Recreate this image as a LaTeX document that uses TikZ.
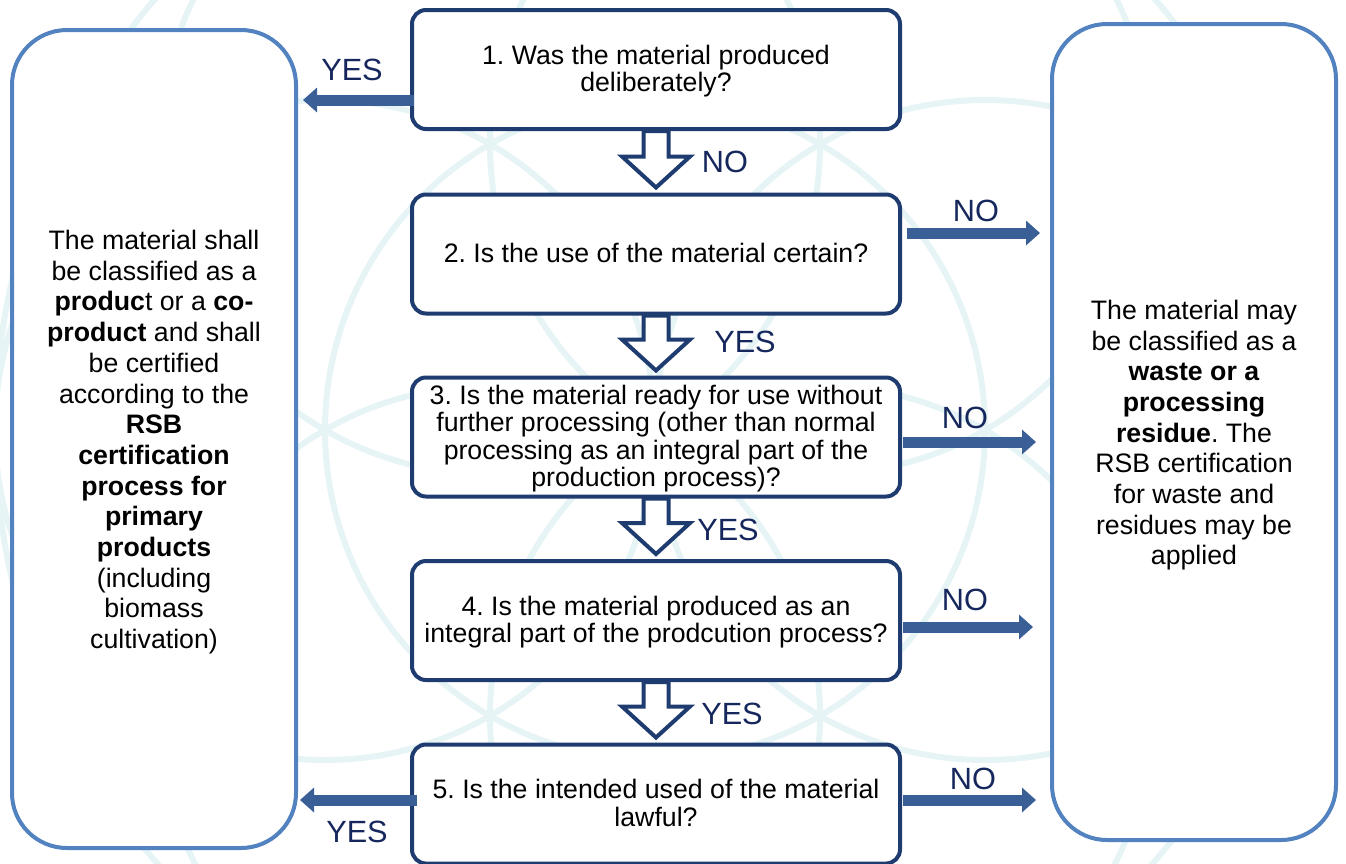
\documentclass[tikz,border=0pt]{standalone}
\usepackage{fontspec}
\setmainfont{Liberation Sans}
\usetikzlibrary{arrows.meta,calc}
\definecolor{boxblue}{HTML}{1F3C70}
\definecolor{sideblue}{HTML}{5282C0}
\definecolor{arrowblue}{HTML}{3A5F96}
\definecolor{labelblue}{HTML}{15275C}
\definecolor{bgc}{HTML}{E6F4F6}
\frenchspacing
\newcommand\lowered[2]{\raisebox{-#1}[\height][\depth]{\begin{tabular}{@{}c@{}}#2\end{tabular}}}
\begin{document}
\begin{tikzpicture}[x=1pt,y=-1pt,
  qbox/.style={draw=boxblue, line width=4pt, rounded corners=14pt, fill=white,
    minimum width=488pt, minimum height=119pt, align=center, inner sep=0pt,
    font=\fontsize{26.7}{27}\selectfont},
  sidebox/.style={draw=sideblue, line width=4pt, rounded corners=55pt, fill=white,
    minimum width=284pt, align=center, inner sep=0pt,
    font=\fontsize{26.7}{30.7}\selectfont},
  ans/.style={text=labelblue, inner sep=0pt, font=\fontsize{30.7}{31}\selectfont},
  blockarrow/.style={draw=arrowblue, line width=11pt,
    -{Triangle[width=24pt,length=14pt]}},
  hollow/.style={draw=boxblue, line width=4pt, fill=white, line join=miter},
  bgline/.style={draw=bgc, line width=6pt}]
\useasboundingbox (0,0) rectangle (1346,863);
% faint background pattern
\begin{scope}
\clip (0,0) rectangle (1346,863);
\draw[bgline] (655,430) circle (330);
\foreach \a in {0,60,...,300} \draw[bgline] ($(655,430)+(\a:330)$) circle (330);
\draw[bgline] (655,430) circle (660);
\end{scope}

% side boxes
\node[sidebox, minimum height=818pt] (left) at (154,439) {\lowered{4pt}{The material shall\\be classified as a\\\textbf{produc}t or a \textbf{co-}\\\textbf{product} and shall\\be certified\\according to the\\\textbf{RSB}\\\textbf{certification}\\\textbf{process for}\\\textbf{primary}\\\textbf{products}\\(including\\biomass\\cultivation)}};
\node[sidebox, minimum height=816pt] (right) at (1194,432) {\lowered{4pt}{The material may\\be classified as a\\\textbf{waste or a}\\\textbf{processing}\\\textbf{residue}. The\\RSB certification\\for waste and\\residues may be\\applied}};

% question boxes
\node[qbox] (b1) at (656,69.5) {\lowered{3pt}{1. Was the material produced\\deliberately?}};
\node[qbox] (b2) at (656,254) {\lowered{3pt}{2. Is the use of the material certain?}};
\node[qbox] (b3) at (656,437) {\lowered{3pt}{3. Is the material ready for use without\\further processing (other than normal\\processing as an integral part of the\\production process)?}};
\node[qbox] (b4) at (656,620.5) {\lowered{3pt}{4. Is the material produced as an\\integral part of the prodcution process?}};
\node[qbox] (b5) at (656,804) {\lowered{3pt}{5. Is the intended used of the material\\lawful?}};

% hollow down arrows
\foreach \a/\b in {b1/b2,b2/b3,b3/b4,b4/b5}
  \path[hollow] let \p1=(\a.south), \p2=(\b.north) in
    (\x1-12.5pt,\y1) -- (\x1-12.5pt,\y2+36pt) -- (\x1-34pt,\y2+36pt) --
    (\x1,\y2+5pt) -- (\x1+34pt,\y2+36pt) -- (\x1+12.5pt,\y2+36pt) --
    (\x1+12.5pt,\y1) -- cycle;

% block arrows
\coordinate (r1) at (0,100);
\coordinate (r2) at (0,233);
\coordinate (r3) at (0,442);
\coordinate (r4) at (0,627);
\coordinate (r5) at (0,800);
\draw[blockarrow, shorten <=-4pt, shorten >=5pt] (b1.west |- r1) -- (left.east |- r1);
\draw[blockarrow, shorten <=-7pt, shorten >=2pt] (b5.west |- r5) -- (left.east |- r5);
\draw[blockarrow, shorten <=5pt, shorten >=10pt] (b2.east |- r2) -- (right.west |- r2);
\draw[blockarrow, shorten <=1pt, shorten >=14pt] (b3.east |- r3) -- (right.west |- r3);
\draw[blockarrow, shorten <=1pt, shorten >=17pt] (b4.east |- r4) -- (right.west |- r4);
\draw[blockarrow, shorten <=1pt, shorten >=14pt] (b5.east |- r5) -- (right.west |- r5);

% answer labels
\node[ans] (l1) at (352,70) {YES};
\node[ans] (l2) at (725,162) {NO};
\node[ans] (l3) at (976,211) {NO};
\node[ans] (l4) at (745,342) {YES};
\node[ans] (l5) at (965,418) {NO};
\node[ans] (l6) at (728,530) {YES};
\node[ans] (l7) at (965,600) {NO};
\node[ans] (l8) at (732,714) {YES};
\node[ans] (l9) at (973,779) {NO};
\node[ans] (l10) at (357,832) {YES};
\end{tikzpicture}
\end{document}
